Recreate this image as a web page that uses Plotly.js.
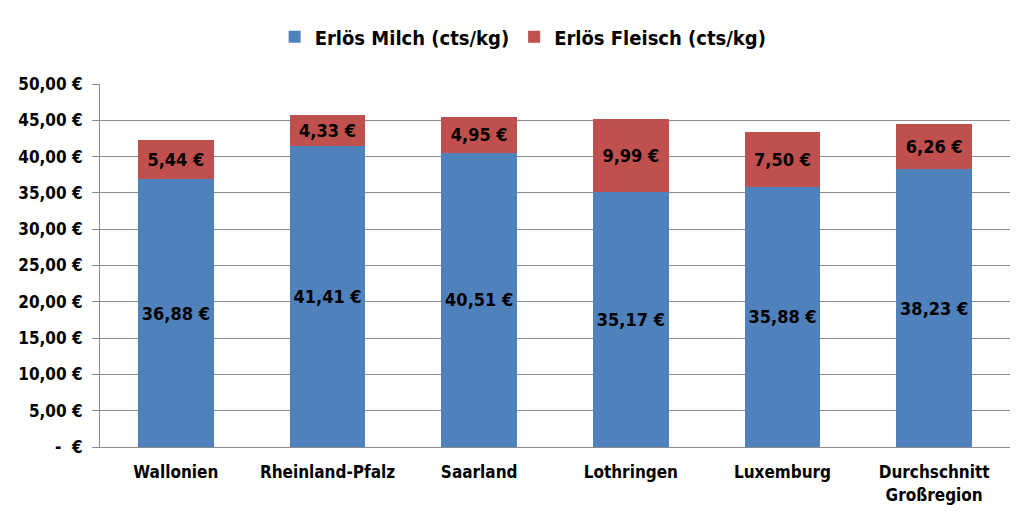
<!DOCTYPE html>
<html>
<head>
<meta charset="utf-8">
<script src="https://cdn.plot.ly/plotly-3.0.1.min.js"></script>
<style>html,body{margin:0;padding:0;background:#fff;}#chart{width:1023px;height:528px;}</style>
</head>
<body>
<div id="chart"></div>
<script>
const categories = ["Wallonien", "Rheinland-Pfalz", "Saarland", "Lothringen", "Luxemburg", "Durchschnitt<br>Großregion"];
const milch = [36.88, 41.41, 40.51, 35.17, 35.88, 38.23];
const fleisch = [5.44, 4.33, 4.95, 9.99, 7.50, 6.26];
const tickVals = [0, 5, 10, 15, 20, 25, 30, 35, 40, 45, 50];
const tickText = ["-  €", "5,00 €", "10,00 €", "15,00 €", "20,00 €", "25,00 €", "30,00 €", "35,00 €", "40,00 €", "45,00 €", "50,00 €"];

const fmt = v => v.toFixed(2).replace('.', ',') + ' €';
const FONT = '"Liberation Sans Narrow", "DejaVu Sans Condensed", sans-serif';

const traces = [
  {
    type: 'bar', name: 'Erlös Milch (cts/kg)', x: categories, y: milch,
    marker: {color: '#4F81BD'},
    text: milch.map(fmt), textposition: 'inside', insidetextanchor: 'middle',
    textfont: {color: '#000', size: 18, family: FONT, weight: 'bold'},
    constraintext: 'none', hoverinfo: 'none'
  },
  {
    type: 'bar', name: 'Erlös Fleisch (cts/kg)', x: categories, y: fleisch,
    marker: {color: '#C0504D'},
    text: fleisch.map(fmt), textposition: 'inside', insidetextanchor: 'middle',
    textfont: {color: '#000', size: 18, family: FONT, weight: 'bold'},
    constraintext: 'none', hoverinfo: 'none'
  }
];

const layout = {
  width: 1023, height: 528,
  margin: {l: 100, r: 13, t: 84, b: 81, autoexpand: false},
  barmode: 'stack', bargap: 0.5,
  paper_bgcolor: '#fff', plot_bgcolor: '#fff',
  font: {family: FONT, color: '#000', weight: 'bold'},
  showlegend: true,
  legend: {
    orientation: 'h', x: 0.465, xanchor: 'center', y: 1.13, yanchor: 'middle',
    font: {size: 20, family: FONT, weight: 'bold'}, traceorder: 'normal'
  },
  xaxis: {
    showgrid: false, showline: true, linecolor: '#8c8c8c', linewidth: 1,
    ticks: '', tickfont: {size: 17, family: FONT, weight: 'bold'}, tickangle: 0,
    ticklabelstandoff: 10, fixedrange: true
  },
  yaxis: {
    range: [0, 50], tickvals: tickVals, ticktext: tickText,
    showgrid: true, gridcolor: '#8c8c8c', gridwidth: 1,
    showline: true, linecolor: '#8c8c8c', linewidth: 1,
    ticks: 'outside', ticklen: 7, tickcolor: '#8c8c8c',
    tickfont: {size: 17, family: FONT, weight: 'bold'},
    ticklabelstandoff: 6, zeroline: false, fixedrange: true
  }
};

Plotly.newPlot('chart', traces, layout, {displayModeBar: false, staticPlot: true});
</script>
</body>
</html>
